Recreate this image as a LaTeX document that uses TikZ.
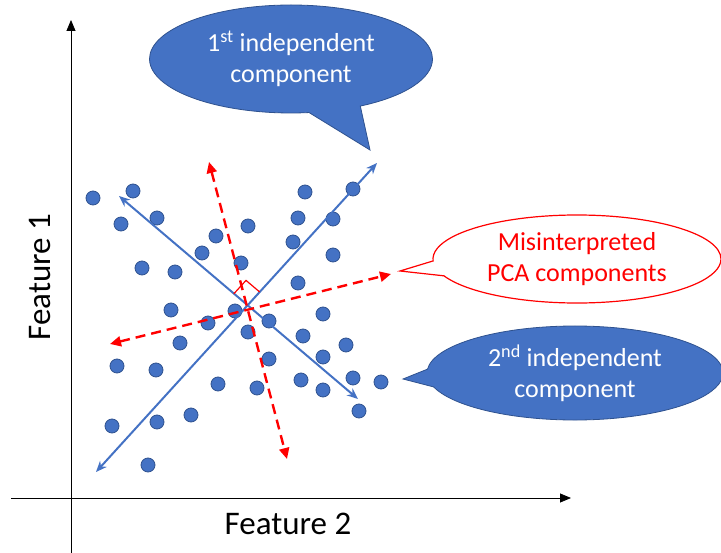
\documentclass[tikz,border=0pt]{standalone}
\usepackage{fontspec}
\setmainfont{Carlito}
\usetikzlibrary{arrows.meta,shapes.callouts}

\definecolor{icblue}{HTML}{4472C4}
\definecolor{icedge}{HTML}{2F528F}

\begin{document}
\begin{tikzpicture}[x=1pt, y=-1pt,
	dot/.style={circle, fill=icblue, draw=icedge, line width=0.8pt, minimum size=14pt, inner sep=0pt},
	icaxis/.style={icblue, line width=2pt, {Stealth[length=11pt,width=9pt]}-{Stealth[length=11pt,width=9pt]}},
	pcaaxis/.style={red, line width=2.4pt, dash pattern=on 10pt off 6pt, {Triangle[length=11pt,width=10pt]}-{Triangle[length=11pt,width=10pt]}},
	bluecall/.style={ellipse callout, fill=icblue, draw=icedge, line width=0.8pt, text=white, align=center, inner sep=0pt, font=\fontsize{26}{31}\selectfont},
	redcall/.style={ellipse callout, fill=white, draw=red, line width=1.2pt, text=red, align=center, inner sep=0pt, font=\fontsize{26}{31}\selectfont}]
				\useasboundingbox (0,0) rectangle (721,553);
				
				% Axes
				\draw[-{Triangle[length=11pt,width=9pt]}, line width=0.8pt] (71,553) -- (71,20);
				\draw[-{Triangle[length=11pt,width=9pt]}, line width=0.8pt] (11,498) -- (571,498);
				\node[rotate=90, font=\fontsize{33}{33}\selectfont] (f1) at (40,277) {Feature 1};
				\node[font=\fontsize{33}{33}\selectfont] (f2) at (288,524) {Feature 2};
				
				% Data points
				\foreach \x/\y [count=\i] in {93/198, 133/191, 121/224, 157/218, 216/236, 248/226, 202/253, 241/263,
					142/268, 175/272, 305/192, 353/189, 298/218, 333/219, 293/242, 333/255, 298/283, 171/310,
					235/311, 208/323, 269/321, 248/332, 323/314, 303/336, 346/345, 180/343, 323/357, 269/359,
					117/366, 156/370, 218/384, 257/388, 301/380, 323/390, 353/378, 381/382, 359/411, 112/426,
					157/422, 191/415, 148/465}
					\node[dot] (d\i) at (\x,\y) {};
				
				% Independent components
				\coordinate (ia1) at (96,472);
				\coordinate (ia2) at (377,163);
				\coordinate (ib1) at (119,196);
				\coordinate (ib2) at (358,399);
				\draw[icaxis] (ia1) -- (ia2);
				\draw[icaxis] (ib1) -- (ib2);
				
				% PCA components
				\coordinate (pa1) at (209,162);
				\coordinate (pa2) at (287,459);
				\coordinate (pb1) at (110,344);
				\coordinate (pb2) at (391,274);
				\draw[pcaaxis] (pa1) -- (pa2);
				\draw[pcaaxis] (pb1) -- (pb2);
				
				% Right angle
				\draw[red, line width=1.2pt] (233.9,293.7) -- (246,280.4) -- (259.7,292);
				
				% Callouts
				\coordinate (t1) at (370,150);
				\coordinate (t2) at (400,271);
				\coordinate (t3) at (403,379);
				\node[bluecall, minimum width=283pt, minimum height=108pt, callout absolute pointer={(t1)}, callout pointer arc=22] (c1) at (291,59) {1\textsuperscript{st} independent\\component};
				\node[redcall, minimum width=288pt, minimum height=88pt, callout absolute pointer={(t2)}, callout pointer arc=20] (c2) at (577,259) {Misinterpreted\\PCA components};
				\node[bluecall, minimum width=296pt, minimum height=94pt, callout absolute pointer={(t3)}, callout pointer arc=22] (c3) at (575,373) {2\textsuperscript{nd} independent\\component};
			\end{tikzpicture}
\end{document}
